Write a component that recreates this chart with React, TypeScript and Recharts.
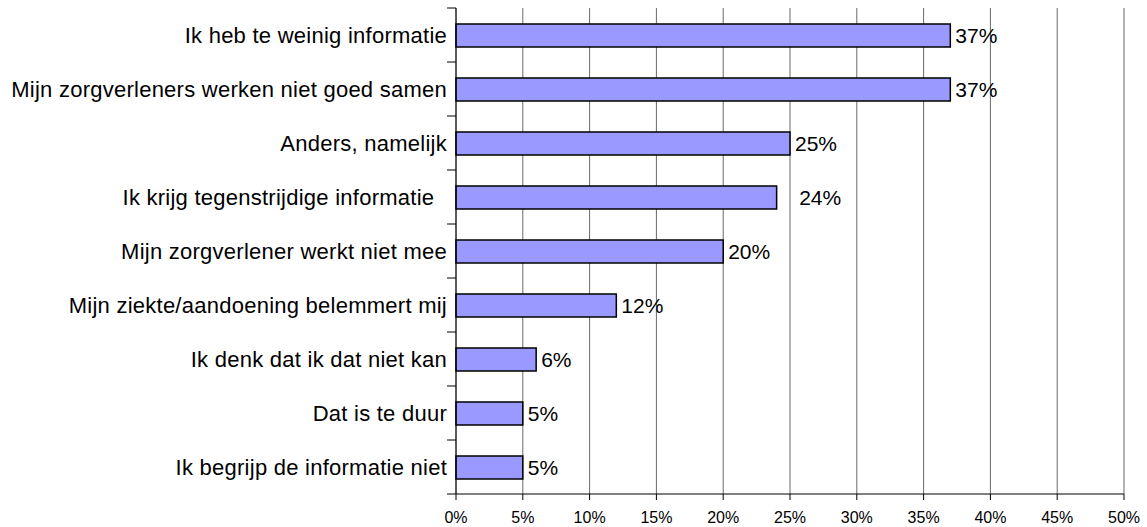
import { Bar, BarChart, CartesianGrid, LabelList, XAxis, YAxis } from "recharts"

const categories = [
  "Ik heb te weinig informatie",
  "Mijn zorgverleners werken niet goed samen",
  "Anders, namelijk",
  "Ik krijg tegenstrijdige informatie\u00a0\u00a0",
  "Mijn zorgverlener werkt niet mee",
  "Mijn ziekte/aandoening belemmert mij",
  "Ik denk dat ik dat niet kan",
  "Dat is te duur",
  "Ik begrijp de informatie niet",
]
const values = [37, 37, 25, 24, 20, 12, 6, 5, 5]
const valueLabels = ["37%", "37%", "25%", "\u00a0\u00a0\u00a024%", "20%", "12%", "6%", "5%", "5%"]
const xTicks = [0, 5, 10, 15, 20, 25, 30, 35, 40, 45, 50]

const WIDTH = 1147
const HEIGHT = 527
const TOP = 8
const AXIS_W = 456
const X_AXIS_H = 33
const FONT = "'Liberation Sans', Arial, sans-serif"

const data = categories.map((name, i) => ({ name, value: values[i], label: valueLabels[i] }))
const band = (HEIGHT - TOP - X_AXIS_H) / categories.length

function CategoryTick(props: any) {
  const { y, payload, index } = props
  const last = index === categories.length - 1
  return (
    <g>
      <line x1={AXIS_W - 9} x2={AXIS_W} y1={y - band / 2} y2={y - band / 2} stroke="#000" />
      {last && <line x1={AXIS_W - 9} x2={AXIS_W} y1={y + band / 2} y2={y + band / 2} stroke="#000" />}
      <text
        x={AXIS_W - 9}
        y={y}
        dy="0.35em"
        textAnchor="end"
        fontSize={22}
        letterSpacing={0.25}
        fill="#000"
        fontFamily={FONT}
      >
        {payload.value}
      </text>
    </g>
  )
}

export default function App() {
  return (
    <div style={{ position: "absolute", left: 0, top: 0, background: "#fff" }}>
      <BarChart
        width={WIDTH}
        height={HEIGHT}
        data={data}
        layout="vertical"
        margin={{ top: TOP, right: 23, bottom: 0, left: 0 }}
      >
        <CartesianGrid horizontal={false} stroke="#6a6a6a" />
        <XAxis
          type="number"
          domain={[0, 50]}
          ticks={xTicks}
          tickFormatter={(v) => `${v}%`}
          height={X_AXIS_H}
          tickSize={6}
          tickMargin={12}
          axisLine={{ stroke: "#000" }}
          tickLine={{ stroke: "#000" }}
          tick={{ fill: "#000", fontSize: 16, fontFamily: FONT }}
          interval={0}
        />
        <YAxis
          type="category"
          dataKey="name"
          width={AXIS_W}
          axisLine={{ stroke: "#000" }}
          tickLine={false}
          tick={<CategoryTick />}
          interval={0}
        />
        <Bar dataKey="value" fill="#9999FF" stroke="#000" strokeWidth={1.5} barSize={23} isAnimationActive={false}>
          <LabelList dataKey="label" position="right" offset={5} fill="#000" fontSize={21} fontFamily={FONT} />
        </Bar>
      </BarChart>
    </div>
  )
}
